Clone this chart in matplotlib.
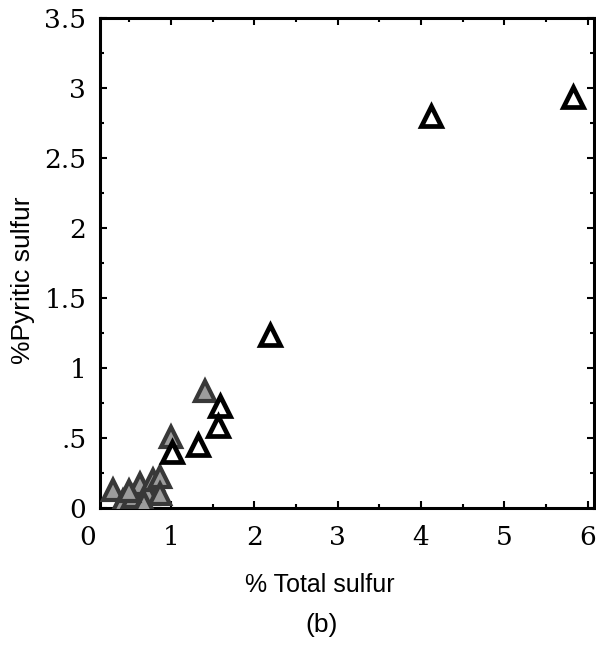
import matplotlib
matplotlib.use("Agg")
import matplotlib.pyplot as plt
from matplotlib.ticker import MultipleLocator

# open (white) triangles
open_x = [4.12, 5.82, 2.19, 1.59, 1.57, 1.32, 1.01]
open_y = [2.80, 2.94, 1.24, 0.73, 0.59, 0.45, 0.40]

# gray speckled triangles
gray_x = [1.41, 1.00, 0.31, 0.43, 0.55, 0.63, 0.72, 0.78, 0.87, 0.87, 0.68, 0.50]
gray_y = [0.84, 0.51, 0.13, 0.05, 0.08, 0.17, 0.10, 0.20, 0.22, 0.10, 0.04, 0.12]

x_ticks = [0, 1, 2, 3, 4, 5, 6]
y_ticks = [0, 0.5, 1, 1.5, 2, 2.5, 3, 3.5]
y_tick_labels = ["0", ".5", "1", "1.5", "2", "2.5", "3", "3.5"]

fig = plt.figure(figsize=(5.96, 6.54), dpi=100)
ax = fig.add_axes([0.168, 0.223, 0.829, 0.749])

ax.plot(gray_x, gray_y, linestyle="none", marker="^", ms=14,
        mfc="#9c9c9c", mec="#383838", mew=3, zorder=3)
ax.plot(open_x, open_y, linestyle="none", marker="^", ms=14,
        mfc="white", mec="black", mew=3.4, zorder=4)

ax.set_xlim(0.15, 6.08)
ax.set_ylim(0, 3.5)

for s in ax.spines.values():
    s.set_linewidth(2.2)
    s.set_color("black")

ax.set_xticks([t for t in x_ticks if t > 0])
ax.set_xticklabels([str(t) for t in x_ticks if t > 0])
ax.set_yticks(y_ticks)
ax.set_yticklabels(y_tick_labels)
ax.xaxis.set_minor_locator(MultipleLocator(0.5))
ax.yaxis.set_minor_locator(MultipleLocator(0.25))
ax.tick_params(which="both", direction="in", top=True, right=True,
               width=1.5, labelsize=19, labelfontfamily="DejaVu Serif")
ax.tick_params(which="major", length=5)
ax.tick_params(which="minor", length=3)
ax.tick_params(axis="x", pad=12)
ax.tick_params(axis="y", pad=10)

# the "0" of the x axis sits left of the frame
ax.annotate("0", xy=(0, 0), xycoords=("data", "axes fraction"),
            xytext=(0, -12), textcoords="offset points",
            ha="center", va="top", fontsize=19, family="DejaVu Serif",
            annotation_clip=False)

fig.text(0.537, 0.105, "% Total sulfur", ha="center", va="center",
         fontsize=18, family="Liberation Sans")
fig.text(0.54, 0.044, "(b)", ha="center", va="center",
         fontsize=19, family="Liberation Sans")
fig.text(0.039, 0.572, "%Pyritic sulfur", ha="center", va="center",
         rotation=90, fontsize=19, family="Liberation Sans")

fig.savefig("out.png", dpi=100)
